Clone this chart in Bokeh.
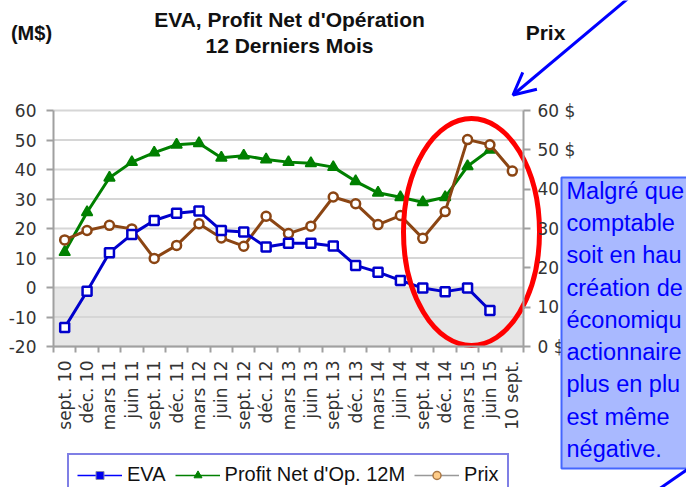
import math
from bokeh.plotting import figure
from bokeh.models import (Range1d, LinearAxis, FixedTicker, PrintfTickFormatter, Label,
                          BoxAnnotation, Legend, LegendItem, ColumnDataSource, Arrow, OpenHead)
from bokeh.embed import file_html
from bokeh.resources import INLINE

NaN = float("nan")

# ---- data ----
months = ["sept. 10", "déc. 10", "mars 11", "juin 11", "sept. 11", "déc. 11", "mars 12",
          "juin 12", "sept. 12", "déc. 12", "mars 13", "juin 13", "sept. 13", "déc. 13",
          "mars 14", "juin 14", "sept. 14", "déc. 14", "mars 15", "juin 15", "10 sept."]
eva = [-13.6, -1.3, 11.8, 18.0, 22.7, 25.2, 25.9, 19.3, 18.8, 13.7, 15.0, 15.0, 14.1,
       7.5, 5.2, 2.4, -0.2, -1.4, -0.2, -7.8, NaN]
profit = [12.0, 25.5, 37.2, 42.5, 45.7, 48.4, 48.9, 44.0, 44.7, 43.4, 42.5, 42.1, 40.8,
          36.0, 32.1, 30.6, 28.9, 30.6, 41.1, 46.7, NaN]
prix = [27.1, 29.5, 30.8, 29.9, 22.4, 25.7, 31.2, 27.6, 25.5, 33.1, 28.7, 30.6, 38.0,
        36.3, 31.0, 33.3, 27.5, 34.3, 52.6, 51.3, 44.6]
left_ticks = [-20, -10, 0, 10, 20, 30, 40, 50, 60]
right_ticks = [0, 10, 20, 30, 40, 50, 60]

note_lines = ["Malgré que", "comptable", "soit en hau", "création de", "économiqu",
              "actionnaire", "plus en plu", "est même", "négative."]

n = len(months)
xs = [i + 0.5 for i in range(n)]
src = ColumnDataSource(dict(x=xs, eva=eva, profit=profit, prix=prix))

# ---- layout geometry (canvas pixels) ----
W, H = 686, 487
PL, PR = 53, 523           # plot area left/right
PT, PB = 110, 346          # plot area top/bottom
sx = (PR - PL) / n
sy = (PB - PT) / 80.0
sy2 = (PB - PT) / 60.0


def dx(px):
    return (px - PL) / sx


def dy(py):
    return -20 + (PB - py) / sy


p = figure(width=W, height=H, output_backend="svg", toolbar_location=None,
           x_range=Range1d(dx(0), dx(W)), y_range=Range1d(dy(H), dy(0)),
           min_border=0)
p.extra_y_ranges = {"prix": Range1d(-(H - PB) / sy2, 60 + PT / sy2)}
p.outline_line_color = None
p.background_fill_color = "white"
p.border_fill_color = "white"
p.xgrid.visible = False
p.ygrid.visible = False

# grey band below zero
p.add_layout(BoxAnnotation(left=0, right=n, bottom=-20, top=0, fill_color="#e6e6e6",
                           fill_alpha=1, line_color=None, level="image"))
# horizontal grid lines between the two axes
p.segment(x0=0, x1=n, y0=left_ticks, y1=left_ticks, line_color="#d6d6d6", line_width=2,
          level="underlay")

AX = "#a0a0a0"
TXT = "#333333"
FONT = "DejaVu Sans"

xa = p.xaxis[0]
xa.fixed_location = -20
xa.bounds = (0, n)
xa.ticker = FixedTicker(ticks=xs, minor_ticks=list(range(n + 1)))
xa.major_label_overrides = {x: m for x, m in zip(xs, months)}
xa.major_label_orientation = math.pi / 2
xa.major_tick_line_color = None
xa.major_tick_out = 0
xa.major_tick_in = 0
xa.minor_tick_out = 6
xa.minor_tick_in = 0
xa.minor_tick_line_color = AX
xa.minor_tick_line_width = 2
xa.axis_line_color = AX
xa.axis_line_width = 2
xa.major_label_text_font = FONT
xa.major_label_text_font_size = "17px"
xa.major_label_text_color = TXT
xa.major_label_standoff = 8

ya = p.yaxis[0]
ya.fixed_location = 0
ya.bounds = (-20, 60)
ya.ticker = FixedTicker(ticks=left_ticks)
ya.formatter = PrintfTickFormatter(format="%d")
ya.axis_line_color = AX
ya.axis_line_width = 2
ya.major_tick_line_color = AX
ya.major_tick_line_width = 2
ya.major_tick_out = 7
ya.major_tick_in = 0
ya.minor_tick_line_color = None
ya.major_label_text_font = FONT
ya.major_label_text_font_size = "17px"
ya.major_label_text_color = TXT
ya.major_label_standoff = 10

ra = LinearAxis(y_range_name="prix", ticker=FixedTicker(ticks=right_ticks),
                formatter=PrintfTickFormatter(format="%d $"), fixed_location=n,
                bounds=(0, 60))
ra.axis_line_color = AX
ra.axis_line_width = 2
ra.major_tick_line_color = AX
ra.major_tick_line_width = 2
ra.major_tick_out = 7
ra.major_tick_in = 0
ra.minor_tick_line_color = None
ra.major_label_text_font = FONT
ra.major_label_text_font_size = "17px"
ra.major_label_text_color = TXT
ra.major_label_standoff = 7
p.add_layout(ra, "right")

# ---- series ----
BLUE, GREEN, BROWN = "#0000cc", "#008000", "#8B4513"
p.line("x", "profit", source=src, line_color=GREEN, line_width=3)
p.scatter("x", "profit", source=src, marker="triangle", size=11, fill_color=GREEN,
          line_color=GREEN, line_width=1.5)
p.line("x", "prix", source=src, y_range_name="prix", line_color=BROWN, line_width=3)
p.scatter("x", "prix", source=src, y_range_name="prix", marker="circle", size=9,
          fill_color="white", line_color=BROWN, line_width=2.5)
p.line("x", "eva", source=src, line_color=BLUE, line_width=3)
p.scatter("x", "eva", source=src, marker="square", size=9, fill_color="white",
          line_color=BLUE, line_width=2.5)

# ---- legend (legend-only renderers, data kept off-screen) ----
off = ColumnDataSource(dict(x=[-1000, -999], y=[-1000, -1000]))
l1 = p.line("x", "y", source=off, line_color="#0000ff", line_width=1.5)
m1 = p.scatter("x", "y", source=off, marker="square", size=12, fill_color="#0000ee",
               line_color="#8888aa", line_width=1)
l2 = p.line("x", "y", source=off, line_color="#008000", line_width=1.5)
m2 = p.scatter("x", "y", source=off, marker="triangle", size=12, fill_color="#008000",
               line_color="#008000", line_width=1)
l3 = p.line("x", "y", source=off, line_color="#999999", line_width=1.5)
m3 = p.scatter("x", "y", source=off, marker="circle", size=9, fill_color="#ffcc88",
               line_color="#aa7744", line_width=1.5)
legend = Legend(items=[LegendItem(label="EVA", renderers=[l1, m1]),
                       LegendItem(label="Profit Net d'Op. 12M", renderers=[l2, m2]),
                       LegendItem(label="Prix", renderers=[l3, m3])],
                orientation="horizontal", location=(67, -9),
                label_text_font="Liberation Sans", label_text_font_size="20px",
                label_text_color="#111111", glyph_width=45, glyph_height=20,
                label_standoff=5, spacing=9, padding=8, margin=0,
                border_line_color="#0000cc", border_line_width=2.5,
                background_fill_color="white", background_fill_alpha=1)
p.add_layout(legend, "center")

# ---- titles ----
tf = "Liberation Sans"
for txt, x, y, fs in [("EVA, Profit Net d'Opération", 289, 19, "21px"),
                      ("12 Derniers Mois", 289, 45, "21px"),
                      ("(M$)", 31, 32, "20px"),
                      ("Prix", 545, 32, "21px")]:
    p.add_layout(Label(x=dx(x), y=dy(y), text=txt, text_align="center",
                       text_baseline="middle", text_font=tf, text_font_style="bold",
                       text_font_size=fs, text_color="#111111"))

# ---- red ellipse highlight ----
p.ellipse(x=dx(471), y=dy(231.5), width=136, height=227, width_units="screen",
          height_units="screen", fill_color=None, line_color="#ff0000", line_width=5)

# ---- note box (runs past the right edge, as in the original) ----
p.add_layout(BoxAnnotation(left=dx(561), right=dx(720), top=dy(177), bottom=dy(468),
                           fill_color="#a9b9ff", fill_alpha=1, line_color="#4466ff",
                           line_alpha=1, line_dash="solid", line_width=2))
p.add_layout(Label(x=dx(566), y=dy(177.5), text="\n".join(note_lines), text_align="left",
                   text_baseline="top", text_font=tf, text_font_size="23.5px",
                   text_line_height=1.24, text_color="#0000ff"))

# ---- arrows ----
p.add_layout(Arrow(x_start=dx(637), y_start=dy(-10), x_end=dx(512.5), y_end=dy(94.5),
                   line_color="#0000ff", line_width=3,
                   end=OpenHead(size=22, line_color="#0000ff", line_width=3)))
p.add_layout(Arrow(x_start=dx(655), y_start=dy(491), x_end=dx(694), y_end=dy(464),
                   line_color="#0000ff", line_width=3, end=None))

open("out.html", "w").write(file_html(p, INLINE))
